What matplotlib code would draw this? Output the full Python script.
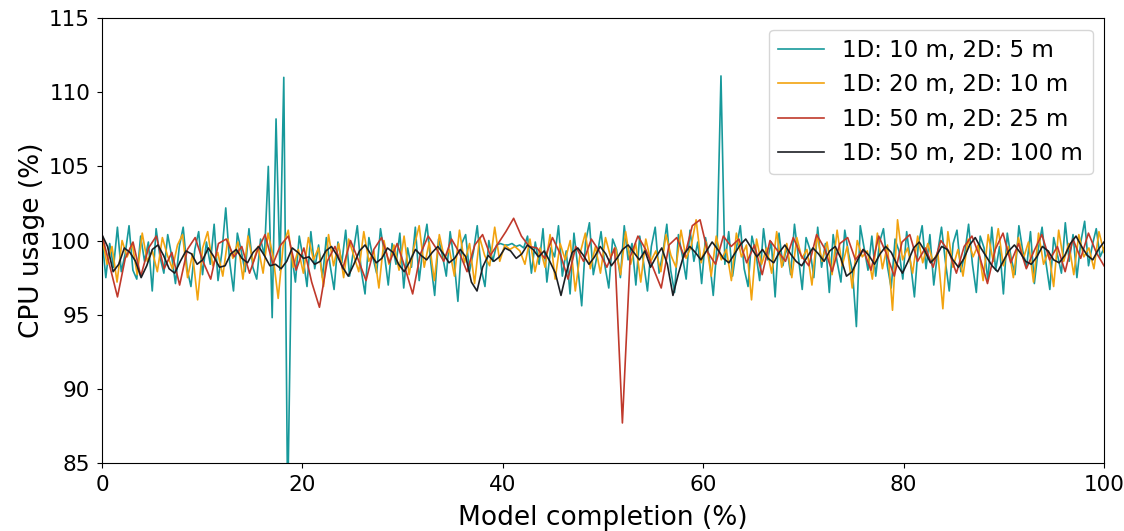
import numpy as np
import matplotlib
matplotlib.use('Agg')
import matplotlib.pyplot as plt

labels = ['1D: 10 m, 2D: 5 m', '1D: 20 m, 2D: 10 m', '1D: 50 m, 2D: 25 m', '1D: 50 m, 2D: 100 m']
colors = ['#17999b', '#f2a30f', '#c0392b', '#1c1f24']

# CPU usage (%) sampled evenly over model completion
cpu_5m = [
    100.2, 97.5, 99.8, 98.2, 100.9, 97.9, 99.1, 101.0, 98.0, 97.4, 100.3, 98.6, 99.9, 96.6, 100.8, 98.9, 97.8, 100.4, 99.0, 97.1,
    99.6, 100.9, 98.1, 96.9, 99.4, 100.6, 97.7, 99.9, 98.4, 101.1, 97.3, 99.2, 102.2, 98.6, 96.6, 100.5, 99.3, 97.9, 100.8, 98.2,
    97.4, 100.1, 99.0, 105.0, 94.8, 108.2, 98.0, 111.0, 82.0, 99.2, 97.2, 100.3, 98.8, 96.9, 100.6, 98.1, 99.7, 97.5, 100.2, 98.3,
    96.7, 99.9, 98.5, 100.7, 97.6, 99.3, 101.0, 98.0, 96.4, 100.2, 98.9, 97.8, 100.8, 99.1, 97.0, 99.8, 98.4, 100.5, 96.8, 99.5,
    98.2, 100.9, 97.3, 99.6, 101.1, 98.5, 96.3, 100.1, 99.0, 97.6, 100.6, 98.7, 95.9, 99.8, 100.4, 97.9, 99.2, 101.0, 98.1, 96.9,
    100.0, 98.6, 99.7, 99.8, 99.7, 99.7, 99.8, 99.6, 99.7, 99.5, 100.3, 97.8, 99.9, 98.4, 100.8, 97.2, 99.5, 98.9, 101.0, 97.6,
    99.3, 96.4, 100.5, 98.2, 95.6, 99.9, 101.2, 97.7, 99.0, 100.6, 98.3, 96.8, 100.1, 99.4, 97.5, 101.0, 98.7, 99.8, 97.0, 100.3,
    98.5, 96.6, 99.6, 100.9, 97.8, 99.2, 101.1, 98.0, 96.5, 100.4, 99.0, 97.4, 100.7, 98.6, 99.9, 97.1, 100.2, 98.8, 96.3, 99.7,
    111.1, 98.4, 100.6, 97.6, 99.5, 101.0, 98.1, 96.9, 100.3, 99.2, 97.3, 100.8, 98.7, 99.9, 96.2, 100.5, 98.3, 99.6, 97.7, 101.1,
    98.9, 96.7, 100.2, 99.4, 97.5, 100.9, 98.2, 99.8, 96.5, 100.4, 98.6, 97.2, 100.7, 99.1, 97.9, 94.2, 101.0, 99.5, 98.0, 100.3,
    97.6, 99.9, 100.8, 98.3, 96.8, 100.1, 99.3, 97.4, 100.6, 98.5, 96.2, 99.7, 101.0, 98.1, 100.4, 97.0, 99.2, 100.9, 98.6, 96.6,
    99.8, 100.7, 97.9, 99.1, 101.1, 98.4, 96.5, 100.3, 99.5, 97.3, 100.9, 98.0, 99.6, 96.4, 100.5, 98.8, 97.7, 101.0, 99.3, 98.2,
    100.6, 97.1, 99.4, 100.9, 98.5, 96.7, 100.2, 99.0, 97.8, 101.2, 98.6, 100.4, 97.5, 99.9, 101.3, 98.3, 99.7, 100.8, 98.9, 99.5,
]

cpu_10m = [
    100.3, 98.4, 99.6, 97.2, 100.0, 98.9, 99.8, 97.7, 100.5, 98.6, 99.3, 97.9, 100.2, 99.0, 98.1, 99.7, 100.4, 97.5, 99.1, 96.0,
    99.5, 100.6, 98.3, 99.2, 97.6, 100.1, 98.8, 99.9, 97.4, 100.3, 98.5, 99.6, 97.8, 100.5, 98.9, 96.1, 99.7, 100.7, 98.2, 99.4,
    97.8, 100.2, 98.7, 99.5, 96.9, 100.4, 98.3, 99.8, 97.5, 100.1, 99.0, 97.9, 100.6, 98.6, 99.3, 96.8, 100.0, 98.4, 99.7, 98.0,
    100.3, 97.7, 99.6, 101.0, 98.2, 99.9, 97.3, 100.4, 98.8, 99.4, 97.6, 100.7, 98.5, 99.8, 97.1, 100.2, 99.0, 98.3, 100.9, 98.6,
    99.7, 99.4, 99.6, 99.3, 98.4, 100.1, 97.9, 99.5, 98.2, 100.4, 97.4, 99.8, 98.7, 100.0, 96.6, 99.2, 100.5, 98.1, 99.6, 97.8,
    100.2, 98.9, 99.5, 97.7, 100.6, 98.4, 99.8, 97.2, 100.1, 98.6, 99.3, 97.9, 100.4, 99.0, 98.2, 100.7, 98.8, 99.6, 101.4, 98.5,
    99.9, 97.6, 100.3, 98.7, 99.4, 97.3, 100.5, 98.9, 99.7, 96.0, 100.1, 98.4, 99.5, 97.8, 100.6, 98.2, 99.8, 97.5, 100.2, 98.8,
    99.4, 97.0, 100.4, 98.6, 99.9, 97.7, 100.7, 98.3, 99.6, 96.8, 100.0, 98.9, 99.3, 97.4, 100.5, 98.1, 99.7, 95.3, 101.4, 98.7,
    99.5, 97.8, 100.3, 98.5, 99.8, 98.6, 99.2, 95.4, 100.6, 98.2, 99.4, 97.6, 100.1, 98.9, 99.7, 97.3, 100.4, 98.6, 100.8, 98.3,
    99.6, 97.5, 100.2, 98.8, 99.9, 97.2, 100.5, 98.4, 99.3, 96.9, 100.7, 98.6, 99.8, 97.7, 100.4, 98.9, 99.5, 98.1, 100.6, 99.2,
]

cpu_25m = [
    100.4, 98.3, 96.2, 98.8, 99.9, 97.6, 99.5, 100.3, 98.1, 99.2,
    97.0, 99.4, 100.2, 98.6, 97.4, 99.8, 100.1, 98.9, 99.6, 97.8,
    99.3, 100.4, 98.4, 99.7, 100.3, 98.0, 99.5, 97.2, 95.5, 98.6,
    99.6, 98.1, 100.0, 98.7, 97.3, 99.4, 100.2, 98.5, 99.8, 98.2,
    96.4, 99.1, 100.3, 99.5, 98.6, 100.1, 99.2, 97.9, 99.7, 100.4,
    99.0, 99.8, 100.6, 101.5, 100.3, 99.6, 99.5, 98.8, 100.2, 99.1,
    97.4, 99.6, 98.6, 100.1, 99.3, 98.2, 99.5, 87.7, 98.9, 100.3,
    99.4, 98.1, 96.8, 99.7, 100.2, 98.9, 101.0, 101.4, 99.2, 98.4,
    100.3, 99.6, 100.1, 98.5, 99.7, 97.7, 100.0, 99.3, 98.6, 100.2,
    99.0, 98.3, 100.4, 99.5, 97.9, 99.8, 100.2, 98.7, 99.4, 98.0,
    100.3, 99.1, 97.6, 99.9, 100.4, 98.6, 99.5, 98.2, 100.0, 99.3,
    97.8, 99.6, 100.3, 98.9, 97.1, 99.4, 100.5, 98.5, 99.8, 98.1,
    99.3, 100.4, 98.7, 99.6, 97.9, 100.1, 98.8, 100.5, 99.2, 98.3,
]

cpu_100m = [
    100.4, 99.6, 97.9, 98.4, 99.5, 99.2, 98.6, 97.5, 98.3, 99.4, 99.7, 99.0, 98.1, 97.8, 98.6, 99.3, 99.1, 98.4, 98.7, 99.5,
    98.9, 98.2, 98.3, 99.1, 99.4, 98.8, 98.5, 99.2, 99.6, 99.0, 98.3, 98.4, 98.1, 98.6, 99.5, 99.2, 98.8, 98.9, 98.4, 98.6,
    99.3, 99.6, 99.0, 98.2, 97.6, 98.4, 99.3, 99.7, 99.1, 98.5, 98.8, 99.5, 99.2, 98.4, 97.9, 98.6, 99.4, 99.0, 98.7, 99.2,
    99.6, 99.1, 98.5, 98.8, 99.4, 98.9, 97.2, 96.6, 98.2, 99.0, 98.6, 98.9, 99.5, 99.3, 98.8, 99.1, 99.7, 99.4, 98.9, 99.3,
    98.6, 97.8, 96.3, 97.9, 99.2, 99.5, 99.0, 98.4, 98.9, 99.6, 99.1, 98.3, 98.8, 99.4, 99.7, 99.2, 98.7, 99.3, 98.2, 98.9,
    99.5, 98.4, 96.3, 97.8, 99.1, 99.6, 99.2, 98.7, 99.3, 99.9, 99.4, 98.8, 98.5, 99.1, 99.7, 100.1, 99.5, 98.9, 99.4, 98.8,
    98.5, 99.2, 99.7, 99.1, 98.6, 98.3, 98.9, 99.5, 99.1, 98.6, 99.3, 99.6, 98.8, 97.6, 97.9, 98.7, 99.4, 99.0, 98.4, 99.1,
    99.6, 99.2, 98.4, 97.8, 98.6, 99.5, 99.9, 99.3, 98.5, 98.9, 99.6, 99.4, 98.7, 98.2, 98.8, 99.7, 100.2, 99.5, 98.9, 98.3,
    97.9, 98.6, 99.3, 99.7, 99.2, 98.6, 98.4, 98.9, 99.6, 99.3, 98.7, 98.5, 99.0, 99.8, 100.3, 99.6, 99.0, 98.7, 99.4, 99.9,
]

series = [cpu_5m, cpu_10m, cpu_25m, cpu_100m]

fig = plt.figure(figsize=(11.24, 5.31), dpi=100)
ax = fig.add_axes([0.0907, 0.128, 0.8915, 0.838])

for vals, lab, col in zip(series, labels, colors):
    x = np.linspace(0, 100, len(vals))
    ax.plot(x, vals, color=col, lw=1.2, label=lab)

ax.set_xlim(0, 100)
ax.set_ylim(85, 115)
ax.set_yticks([85, 90, 95, 100, 105, 110, 115])
ax.set_xticks([0, 20, 40, 60, 80, 100])
ax.tick_params(labelsize=15.5, pad=5)
ax.set_xlabel('Model completion (%)', fontsize=19, labelpad=7)
ax.set_ylabel('CPU usage (%)', fontsize=19, labelpad=3)
ax.legend(loc='upper right', fontsize=16.5, labelspacing=0.5)

fig.savefig('out.png', dpi=100)
